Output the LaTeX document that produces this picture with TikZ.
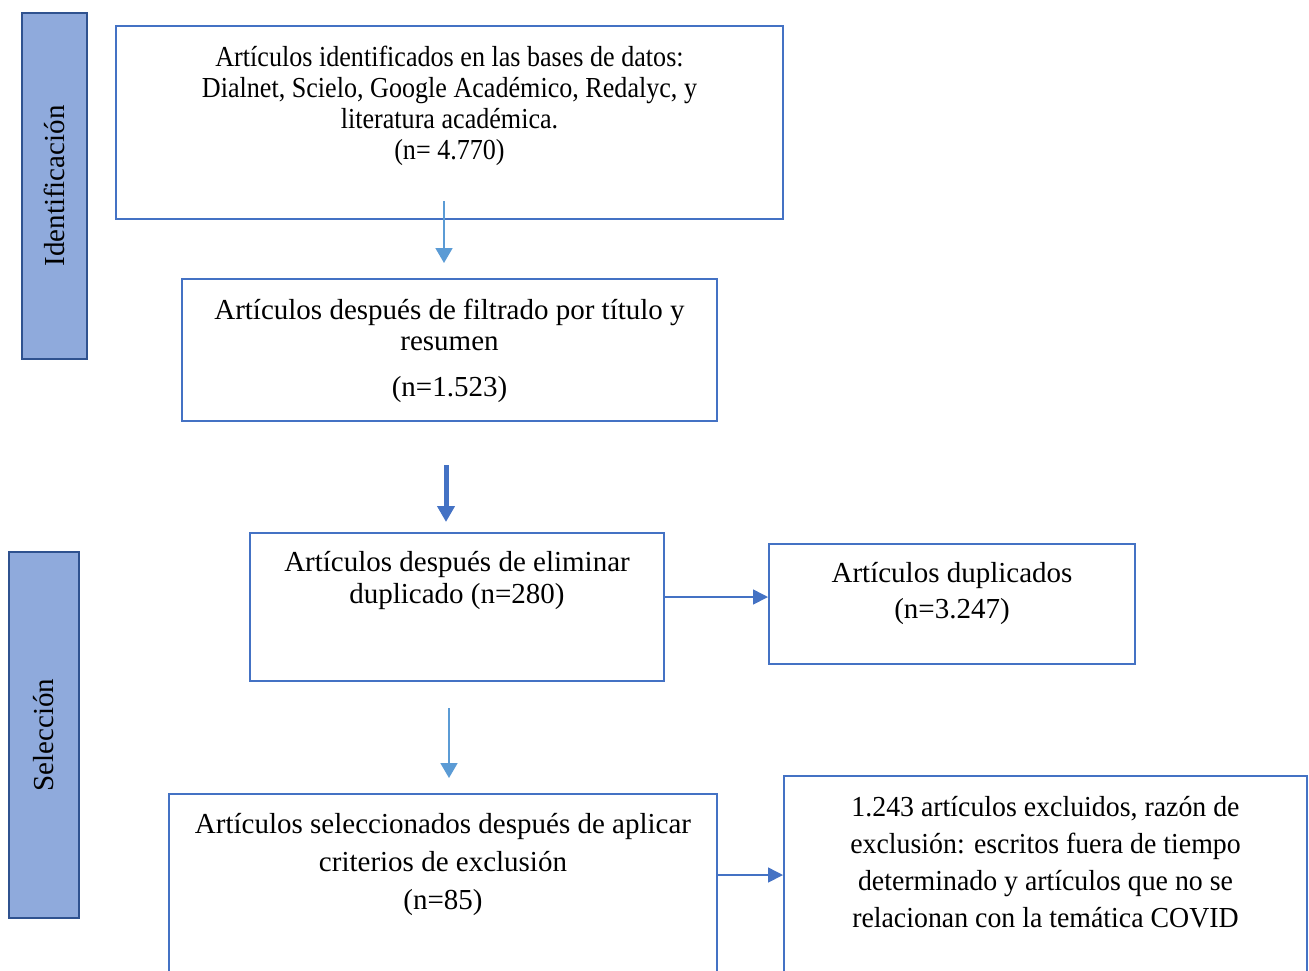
\documentclass[tikz,border=0pt]{standalone}
\usepackage{fontspec}
\setmainfont{Liberation Serif}
\newfontfamily\estrecha{Liberation Serif}[FakeStretch=0.9]
\newfontfamily\estrechab{Liberation Serif}[FakeStretch=0.96]
\usepackage{xcolor}
\usetikzlibrary{arrows.meta,positioning}

\definecolor{borde}{HTML}{4472C4}
\definecolor{flechaazul}{HTML}{5B9BD5}
\definecolor{barrafondo}{HTML}{8FAADC}
\definecolor{barraborde}{HTML}{2F528F}

\begin{document}
\begin{tikzpicture}[x=0.5pt, y=-0.5pt,
    caja/.style={draw=borde, line width=1pt, fill=white, anchor=north west, inner sep=0pt},
    barra/.style={draw=barraborde, line width=0.8pt, fill=barrafondo, rotate=90,
                  font=\fontsize{14.5}{19}\selectfont},
    texto/.style={align=center, inner sep=0pt, font=\fontsize{14.5}{#1}\selectfont,
                  execute at begin node={\vrule height 13.3pt width 0pt}},
    texto/.default=19,
    flecha/.style={draw=borde, line width=0.8pt, -{Triangle[width=7.5pt,length=7.5pt]}},
    flechaclara/.style={draw=flechaazul, line width=0.9pt, -{Triangle[width=8.5pt,length=7.5pt]}},
    flechagruesa/.style={draw=borde, line width=2.5pt, -{Triangle[width=8.5pt,length=8pt]}}]
    \useasboundingbox (0,0) rectangle (1309,970);
    \clip (0,0) rectangle (1309,970);
    %\draw[help lines, step=50] (0,0) grid (1309,970);

    % barras laterales
    \node[barra, minimum width=173pt, minimum height=32.5pt] (idbarra) at (54.5,186) {Identificación};
    \node[barra, minimum width=183pt, minimum height=35pt] (selbarra) at (44,735) {Selección};

    % cajas
    \node[caja, minimum width=333.5pt, minimum height=96.5pt] (ident) at (115,25) {};
    \node[caja, minimum width=267.5pt, minimum height=71pt] (filtro) at (181,278) {};
    \node[caja, minimum width=207pt, minimum height=74pt] (elim) at (249,532) {};
    \node[caja, minimum width=183pt, minimum height=60pt] (dup) at (768,543) {};
    \node[caja, minimum width=274pt, minimum height=200pt] (sel) at (168,793) {};
    \node[caja, minimum width=261.5pt, minimum height=200pt] (excl) at (783,775) {};

    % textos
    \node[texto, below=10.2pt of ident.north, font={\estrecha\fontsize{14.5}{15.5}\selectfont}] (identtxt)
        {Artículos identificados en las bases de datos:\\
         Dialnet, Scielo, Google Académico, Redalyc, y\\
         literatura académica.\\
         (n= 4.770)};
    \node[texto=15.5, below=10.2pt of filtro.north] (filtrotxt)
        {Artículos después de filtrado por título y\\ resumen\\[7.5pt] (n=1.523)};
    \node[texto=16, below=9.7pt of elim.north] (elimtxt)
        {Artículos después de eliminar\\ duplicado (n=280)};
    \node[texto=18, below=9.7pt of dup.north] (duptxt)
        {Artículos duplicados\\ (n=3.247)};
    \node[texto=19, below=10.2pt of sel.north] (seltxt)
        {Artículos seleccionados después de aplicar\\ criterios de exclusión\\ (n=85)};
    \node[texto, below=10.7pt of excl.north, font={\estrechab\fontsize{14.5}{18.5}\selectfont}] (excltxt)
        {1.243 artículos excluidos, razón de\\
         exclusión: escritos fuera de tiempo\\
         determinado y artículos que no se\\
         relacionan con la temática COVID};

    % flechas
    \coordinate (f1) at ([xshift=-2.75pt,yshift=9.5pt]ident.south);
    \draw[flechaclara] (f1) -- ([yshift=7.5pt]f1 |- filtro.north);
    \coordinate (f2) at ([xshift=-1.75pt,yshift=-21.5pt]filtro.south);
    \draw[flechagruesa] (f2) -- ([yshift=5pt]f2 |- elim.north);
    \coordinate (f3) at ([yshift=3.5pt]dup.west);
    \draw[flecha] (elim.east |- f3) -- (f3);
    \coordinate (f4) at ([xshift=-4pt,yshift=-13pt]elim.south);
    \draw[flechaclara] (f4) -- ([yshift=7.5pt]f4 |- sel.north);
    \coordinate (f5) at ([yshift=-41pt]sel.north east);
    \draw[flecha] (f5) -- (f5 -| excl.west);
\end{tikzpicture}
\end{document}
